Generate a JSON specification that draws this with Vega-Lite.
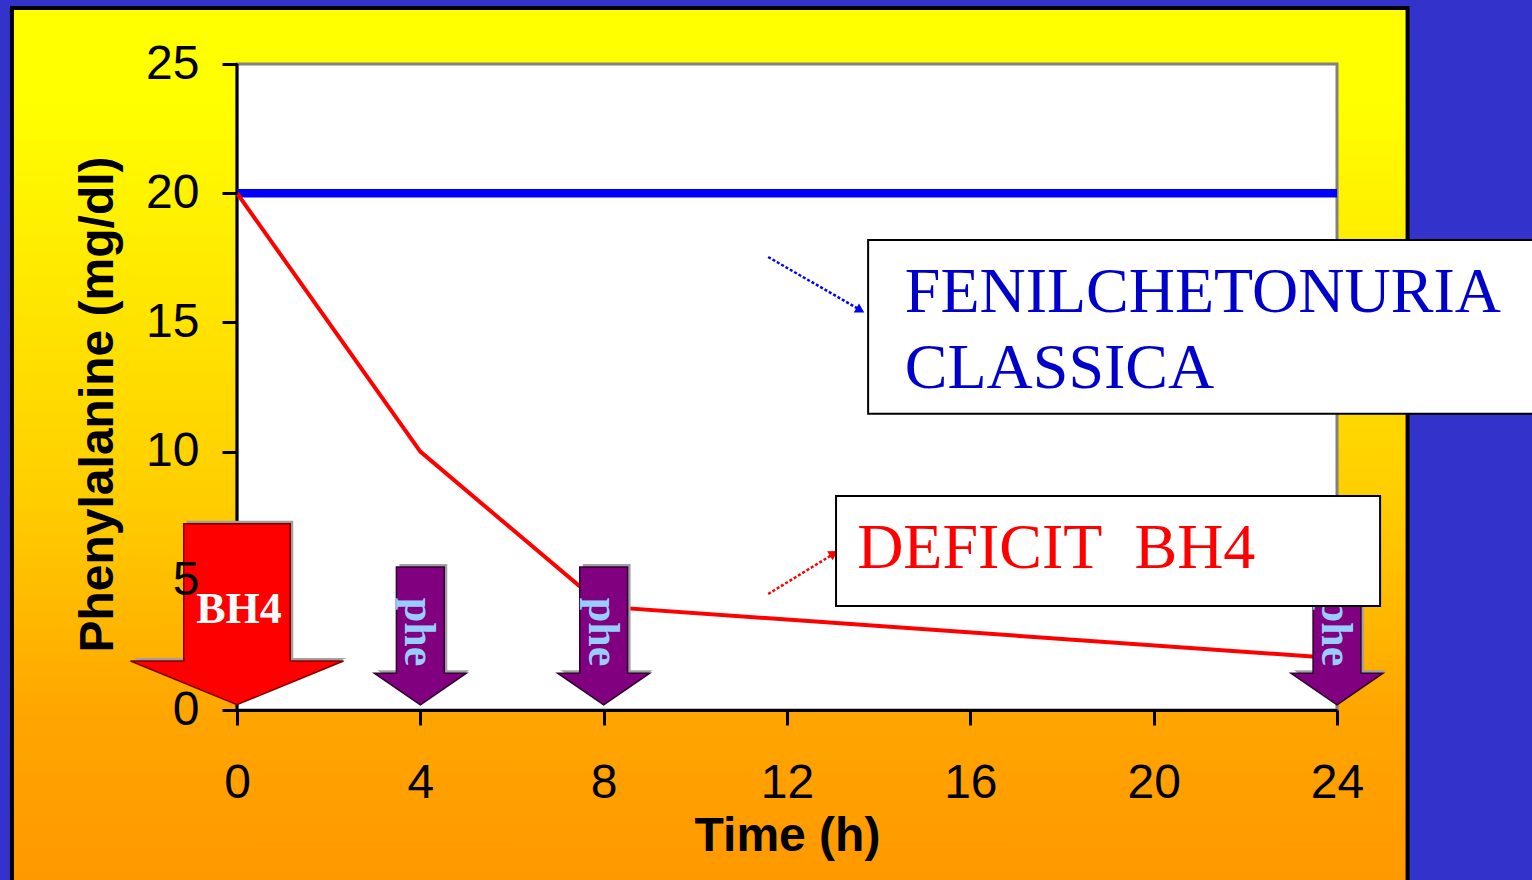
{
  "$schema": "https://vega.github.io/schema/vega-lite/v6.json",
  "width": 1100,
  "height": 646,
  "autosize": {"type": "none"},
  "padding": {"left": 237, "top": 64, "right": 195, "bottom": 170},
  "background": "#3333CC",
  "config": {
    "view": {"stroke": null, "fill": null},
    "axis": {
      "domainColor": "#000000", "domainWidth": 3,
      "tickColor": "#000000", "tickWidth": 3, "tickSize": 15,
      "labelFont": "Liberation Sans", "labelFontSize": 48, "labelColor": "#000000",
      "titleFont": "Liberation Sans", "titleFontSize": 48, "titleFontWeight": "bold", "titleColor": "#000000",
      "grid": false, "labelFlush": false, "labelOverlap": false
    }
  },
  "datasets": {
    "levels": [
      {"time": 0, "level": 20, "series": "classica"},
      {"time": 4, "level": 20, "series": "classica"},
      {"time": 8, "level": 20, "series": "classica"},
      {"time": 24, "level": 20, "series": "classica"},
      {"time": 0, "level": 20, "series": "deficit"},
      {"time": 4, "level": 10, "series": "deficit"},
      {"time": 8, "level": 4, "series": "deficit"},
      {"time": 24, "level": 2, "series": "deficit"}
    ],
    "doses": [
      {"time": 0, "dose": "BH4"},
      {"time": 4, "dose": "phe"},
      {"time": 8, "dose": "phe"},
      {"time": 24, "dose": "phe"}
    ]
  },
  "layer": [
    {
      "data": {"values": [{}]},
      "mark": {"type": "rect", "clip": false, "stroke": "#000000", "strokeWidth": 4,
        "fill": {"gradient": "linear", "x1": 0, "y1": 0, "x2": 0, "y2": 1,
          "stops": [
            {"offset": 0, "color": "#FFFF00"},
            {"offset": 0.1, "color": "#FFFF00"},
            {"offset": 0.55, "color": "#FFCC00"},
            {"offset": 0.78, "color": "#FFA500"},
            {"offset": 1, "color": "#FF9600"}
          ]}},
      "encoding": {
        "x": {"datum": -4.91, "type": "quantitative", "scale": {"domain": [0, 24], "nice": false, "zero": false}},
        "x2": {"datum": 25.54},
        "y": {"datum": 27.17, "type": "quantitative", "scale": {"domain": [0, 25], "nice": false, "zero": false}},
        "y2": {"datum": -8}
      }
    },
    {
      "data": {"values": [{}]},
      "mark": {"type": "rect", "clip": false, "fill": "#FFFFFF", "stroke": "#808080", "strokeWidth": 3},
      "encoding": {
        "x": {"datum": 0, "type": "quantitative"},
        "x2": {"datum": 24},
        "y": {"datum": 0, "type": "quantitative"},
        "y2": {"datum": 25}
      }
    },
    {
      "data": {"values": [{}]},
      "mark": {"type": "rule", "clip": false, "color": "#000000", "strokeWidth": 3},
      "encoding": {
        "x": {"datum": 0, "type": "quantitative"},
        "y": {"datum": 0, "type": "quantitative"},
        "y2": {"datum": 25}
      }
    },
    {
      "data": {"name": "levels"},
      "transform": [{"filter": "datum.series === 'classica'"}],
      "mark": {"type": "line", "clip": false, "color": "#0000FF", "strokeWidth": 8.5},
      "encoding": {
        "x": {"field": "time", "type": "quantitative",
          "axis": {"title": "Time (h)", "values": [0, 4, 8, 12, 16, 20, 24], "labelPadding": 34, "zindex": 1,
            "titleX": 550, "titleY": 140, "titleBaseline": "alphabetic", "titleAlign": "center"}},
        "y": {"field": "level", "type": "quantitative",
          "axis": {"title": "Phenylalanine (mg/dl)", "values": [0, 5, 10, 15, 20, 25], "domain": false, "labelPadding": 23, "zindex": 1,
            "tickColor": {"condition": {"test": "datum.value === 5", "value": "transparent"}, "value": "#000000"},
            "titleX": -125, "titleY": 340, "titleAngle": -90, "titleBaseline": "alphabetic", "titleAlign": "center"}}
      }
    },
    {
      "data": {"name": "levels"},
      "transform": [{"filter": "datum.series === 'deficit'"}],
      "mark": {"type": "line", "clip": false, "color": "#FF0000", "strokeWidth": 4},
      "encoding": {
        "x": {"field": "time", "type": "quantitative"},
        "y": {"field": "level", "type": "quantitative"}
      }
    },
    {
      "data": {"name": "doses"},
      "transform": [{"filter": "datum.dose === 'BH4'"}],
      "mark": {"type": "point", "clip": false, "filled": true, "opacity": 1, "fill": "#A0A0A0", "strokeWidth": 0,
        "xOffset": 3, "yOffset": -3, "size": 45369,
        "shape": "M0,-0.05L1,-0.46L0.5,-0.46L0.5,-1.75L-0.5,-1.75L-0.5,-0.46L-1,-0.46Z"},
      "encoding": {
        "x": {"field": "time", "type": "quantitative"},
        "y": {"datum": 0, "type": "quantitative"}
      }
    },
    {
      "data": {"name": "doses"},
      "transform": [{"filter": "datum.dose === 'BH4'"}],
      "mark": {"type": "point", "clip": false, "filled": true, "opacity": 1, "fill": "#FF0000", "stroke": "#800000", "strokeWidth": 1.5,
        "size": 45369,
        "shape": "M0,-0.05L1,-0.46L0.5,-0.46L0.5,-1.75L-0.5,-1.75L-0.5,-0.46L-1,-0.46Z"},
      "encoding": {
        "x": {"field": "time", "type": "quantitative"},
        "y": {"datum": 0, "type": "quantitative"}
      }
    },
    {
      "data": {"name": "doses"},
      "transform": [{"filter": "datum.dose === 'phe'"}],
      "mark": {"type": "point", "clip": false, "filled": true, "opacity": 1, "fill": "#A0A0A0", "strokeWidth": 0,
        "xOffset": 3, "yOffset": -3, "size": 8464,
        "shape": "M0,-0.11L1,-0.8L0.52,-0.8L0.52,-3.11L-0.52,-3.11L-0.52,-0.8L-1,-0.8Z"},
      "encoding": {
        "x": {"field": "time", "type": "quantitative"},
        "y": {"datum": 0, "type": "quantitative"}
      }
    },
    {
      "data": {"name": "doses"},
      "transform": [{"filter": "datum.dose === 'phe'"}],
      "mark": {"type": "point", "clip": false, "filled": true, "opacity": 1, "fill": "#800080", "stroke": "#300030", "strokeWidth": 1.5,
        "size": 8464,
        "shape": "M0,-0.11L1,-0.8L0.52,-0.8L0.52,-3.11L-0.52,-3.11L-0.52,-0.8L-1,-0.8Z"},
      "encoding": {
        "x": {"field": "time", "type": "quantitative"},
        "y": {"datum": 0, "type": "quantitative"}
      }
    },
    {
      "data": {"name": "doses"},
      "transform": [{"filter": "datum.dose === 'BH4'"}],
      "mark": {"type": "text", "clip": false, "font": "Liberation Serif", "fontSize": 44, "fontWeight": "bold",
        "color": "#FFFFFF", "align": "center", "baseline": "alphabetic", "dx": 2, "dy": -87},
      "encoding": {
        "x": {"field": "time", "type": "quantitative"},
        "y": {"datum": 0, "type": "quantitative"},
        "text": {"field": "dose"}
      }
    },
    {
      "data": {"name": "doses"},
      "transform": [{"filter": "datum.dose === 'phe'"}],
      "mark": {"type": "text", "clip": false, "font": "Liberation Serif", "fontSize": 44, "fontWeight": "bold",
        "color": "#99CCFF", "align": "center", "baseline": "middle", "angle": 90, "dx": -78, "dy": 2},
      "encoding": {
        "x": {"field": "time", "type": "quantitative"},
        "y": {"datum": 0, "type": "quantitative"},
        "text": {"field": "dose"}
      }
    },
    {
      "data": {"values": [{}]},
      "mark": {"type": "rule", "clip": false, "color": "#0000FF", "strokeWidth": 2.5, "strokeDash": [3, 2]},
      "encoding": {
        "x": {"datum": 11.59, "type": "quantitative"},
        "y": {"datum": 17.53, "type": "quantitative"},
        "x2": {"datum": 13.55},
        "y2": {"datum": 15.53}
      }
    },
    {
      "data": {"values": [{}]},
      "mark": {"type": "point", "clip": false, "shape": "triangle-right", "filled": true, "opacity": 1, "color": "#0000FF", "size": 110, "angle": 30},
      "encoding": {
        "x": {"datum": 13.6, "type": "quantitative"},
        "y": {"datum": 15.47, "type": "quantitative"}
      }
    },
    {
      "data": {"values": [{}]},
      "mark": {"type": "rule", "clip": false, "color": "#FF0000", "strokeWidth": 2.5, "strokeDash": [3, 2]},
      "encoding": {
        "x": {"datum": 11.59, "type": "quantitative"},
        "y": {"datum": 4.49, "type": "quantitative"},
        "x2": {"datum": 12.98},
        "y2": {"datum": 6.0}
      }
    },
    {
      "data": {"values": [{}]},
      "mark": {"type": "point", "clip": false, "shape": "triangle-right", "filled": true, "opacity": 1, "color": "#FF0000", "size": 110, "angle": 328},
      "encoding": {
        "x": {"datum": 13.02, "type": "quantitative"},
        "y": {"datum": 6.06, "type": "quantitative"}
      }
    },
    {
      "data": {"values": [{}]},
      "mark": {"type": "rect", "clip": false, "fill": "#FFFFFF", "stroke": "#000000", "strokeWidth": 2},
      "encoding": {
        "x": {"datum": 13.77, "type": "quantitative"},
        "x2": {"datum": 29},
        "y": {"datum": 18.19, "type": "quantitative"},
        "y2": {"datum": 11.46}
      }
    },
    {
      "data": {"values": [{}]},
      "mark": {"type": "rect", "clip": false, "fill": "#FFFFFF", "stroke": "#000000", "strokeWidth": 2},
      "encoding": {
        "x": {"datum": 13.07, "type": "quantitative"},
        "x2": {"datum": 24.94},
        "y": {"datum": 8.28, "type": "quantitative"},
        "y2": {"datum": 4.02}
      }
    },
    {
      "data": {"values": [{"note": "FENILCHETONURIA\nCLASSICA"}]},
      "mark": {"type": "text", "clip": false, "font": "Liberation Serif", "fontSize": 64, "color": "#0000CC",
        "align": "left", "baseline": "alphabetic", "lineBreak": "\n", "lineHeight": 76},
      "encoding": {
        "x": {"datum": 14.57, "type": "quantitative"},
        "y": {"datum": 15.4, "type": "quantitative"},
        "text": {"field": "note"}
      }
    },
    {
      "data": {"values": [{"note": "DEFICIT\u00a0 BH4"}]},
      "mark": {"type": "text", "clip": false, "font": "Liberation Serif", "fontSize": 64, "color": "#FF0000",
        "align": "left", "baseline": "alphabetic"},
      "encoding": {
        "x": {"datum": 13.53, "type": "quantitative"},
        "y": {"datum": 5.5, "type": "quantitative"},
        "text": {"field": "note"}
      }
    }
  ]
}
